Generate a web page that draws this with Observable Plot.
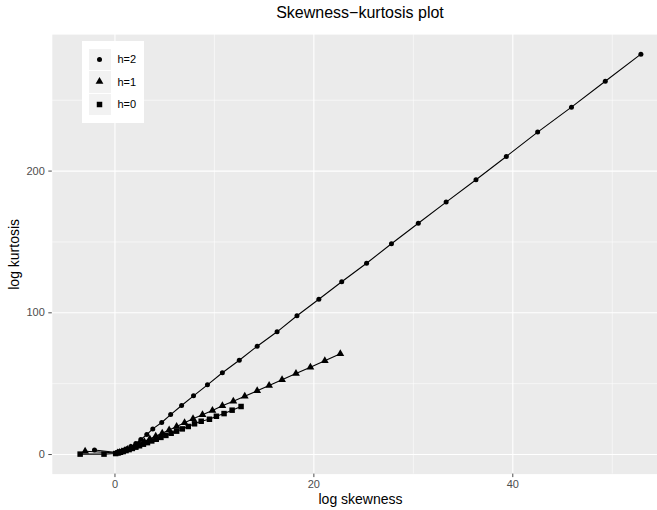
<!DOCTYPE html>
<html>
<head>
<meta charset="utf-8">
<script src="https://cdn.jsdelivr.net/npm/d3@7"></script>
<script src="https://cdn.jsdelivr.net/npm/@observablehq/plot@0.6"></script>
<style>
  html, body { margin: 0; padding: 0; background: white; overflow: hidden; }
  #wrap { position: relative; width: 657px; height: 510px; overflow: hidden; font-family: "Liberation Sans", Arial, sans-serif; }
  #title { position: absolute; left: 0; top: 0; width: 720px; height: 28px; line-height: 26px; text-align: center; font-size: 16px; color: black; }
  #chart { position: absolute; left: 0; top: 28px; }
  #legend { position: absolute; left: 82px; top: 41px; background: white; padding: 7px 8px 7px 7px; }
  .row { display: flex; align-items: center; height: 22.5px; }
  .key { width: 21.5px; height: 21.5px; background: #F2F2F2; display: flex; align-items: center; justify-content: center; }
  .lab { margin-left: 7px; font-size: 11px; color: black; }
</style>
</head>
<body>
<div id="wrap">
  <div id="title">Skewness−kurtosis plot</div>
  <div id="chart"></div>
  <div id="legend"></div>
</div>
<script>
// h = 2 (circles)
const x_h2 = [-2.06, 0.2, 0.5, 0.8, 1.2, 1.6, 2.1, 2.6, 3.2, 3.8, 4.7, 5.6, 6.7, 7.9, 9.3, 10.8, 12.5, 14.3, 16.3, 18.3, 20.5, 22.8, 25.3, 27.8, 30.5, 33.3, 36.3, 39.35, 42.5, 45.9, 49.3, 52.88];
const y_h2 = [3.2, 1.5, 2.1, 2.9, 4.0, 5.6, 7.8, 10.6, 14.1, 18.1, 22.6, 28.2, 34.6, 41.4, 49.2, 57.7, 66.5, 76.4, 86.6, 97.9, 109.6, 121.9, 135.0, 148.7, 163.2, 178.1, 193.9, 210.3, 227.5, 245.1, 263.4, 282.5];
// h = 1 (triangles)
const x_h1 = [-3.0, 0.25, 0.45, 0.7, 0.95, 1.25, 1.6, 2.0, 2.45, 2.95, 3.5, 4.1, 4.75, 5.45, 6.2, 7.0, 7.85, 8.8, 9.8, 10.8, 11.9, 13.05, 14.3, 15.5, 16.8, 18.2, 19.65, 21.1, 22.66];
const y_h1 = [2.3, 1.1, 1.4, 1.9, 2.6, 3.5, 4.6, 5.9, 7.4, 9.1, 10.9, 12.9, 15.0, 17.3, 19.8, 22.4, 25.2, 28.0, 31.1, 34.4, 37.6, 41.1, 45.0, 48.7, 52.7, 57.2, 61.6, 66.1, 71.1];
// h = 0 (squares)
const x_h0 = [-3.5, -1.1, 0.07, 0.3, 0.55, 0.82, 1.11, 1.42, 1.75, 2.1, 2.47, 2.86, 3.27, 3.7, 4.15, 4.62, 5.12, 5.65, 6.2, 6.77, 7.37, 8.0, 8.67, 9.5, 10.2, 10.97, 11.78, 12.68];
const y_h0 = [0.3, 0.3, 0.7, 1.1, 1.6, 2.1, 2.8, 3.5, 4.3, 5.2, 6.2, 7.3, 8.4, 9.6, 10.8, 12.1, 13.5, 15.0, 16.5, 18.1, 19.8, 21.7, 23.5, 24.9, 27.0, 28.9, 31.3, 33.9];

const seriesNames = ["h=2", "h=1", "h=0"];
const seriesSymbols = ["circle", "triangle", "square"];
const seriesRadius = [2.5, 2.9, 3.1];

const xMajor = [0, 20, 40];
const xMinor = [10, 30, 50];
const yMajor = [0, 100, 200];
const yMinor = [50, 150, 250];

const toRows = (xs, ys) => xs.map((x, i) => ({x, y: ys[i]}));
const series = [toRows(x_h2, y_h2), toRows(x_h1, y_h1), toRows(x_h0, y_h0)];

const chart = Plot.plot({
  width: 657,
  height: 482,
  marginLeft: 51.8,
  marginRight: 0,
  marginTop: 6.1,
  marginBottom: 36.4,
  x: {domain: [-6.3, 54.55]},
  y: {domain: [-13.8, 296.3]},
  style: {fontFamily: "'Liberation Sans', Arial, sans-serif", fontSize: "11px", background: "white"},
  marks: [
    Plot.frame({fill: "#EBEBEB", stroke: null}),
    Plot.gridX(xMinor, {stroke: "white", strokeOpacity: 1, strokeWidth: 0.55}),
    Plot.gridY(yMinor, {stroke: "white", strokeOpacity: 1, strokeWidth: 0.55}),
    Plot.gridX(xMajor, {stroke: "white", strokeOpacity: 1, strokeWidth: 1.1}),
    Plot.gridY(yMajor, {stroke: "white", strokeOpacity: 1, strokeWidth: 1.1}),
    Plot.axisX({ticks: xMajor, tickSize: 3.5, tickPadding: 3, label: null, color: "#4D4D4D"}),
    Plot.axisY({ticks: yMajor, tickSize: 3.5, tickPadding: 4, label: null, color: "#4D4D4D"}),
    ...series.map(s => Plot.line(s, {x: "x", y: "y", stroke: "black", strokeWidth: 1.07})),
    ...series.map((s, i) => Plot.dot(s, {x: "x", y: "y", symbol: seriesSymbols[i], r: seriesRadius[i], fill: "black", stroke: null})),
    Plot.text(["log skewness"], {text: d => d, frameAnchor: "bottom", textAnchor: "middle", lineAnchor: "middle", dy: 25.4, dx: 5.6, fontSize: 14, fill: "black"}),
    Plot.text(["log kurtosis"], {text: d => d, frameAnchor: "left", textAnchor: "middle", lineAnchor: "middle", rotate: -90, dx: -37.8, fontSize: 14, fill: "black"})
  ]
});
document.getElementById("chart").appendChild(chart);

// legend
const legend = document.getElementById("legend");
seriesNames.forEach((name, i) => {
  const row = document.createElement("div");
  row.className = "row";
  const key = document.createElement("div");
  key.className = "key";
  const svg = d3.create("svg").attr("width", 21).attr("height", 21);
  const type = {circle: d3.symbolCircle, triangle: d3.symbolTriangle, square: d3.symbolSquare}[seriesSymbols[i]];
  svg.append("path")
    .attr("transform", "translate(10.5,10.5)")
    .attr("d", d3.symbol(type, Math.PI * seriesRadius[i] * seriesRadius[i])())
    .attr("fill", "black");
  key.appendChild(svg.node());
  const lab = document.createElement("span");
  lab.className = "lab";
  lab.textContent = name;
  row.appendChild(key);
  row.appendChild(lab);
  legend.appendChild(row);
});
</script>
</body>
</html>
